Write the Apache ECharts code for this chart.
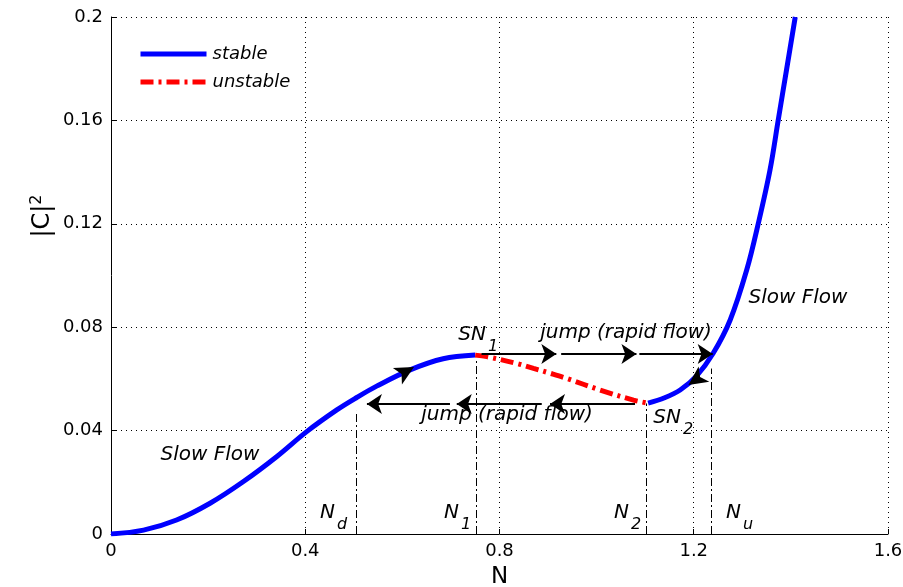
<!DOCTYPE html>
<html>
<head>
<meta charset="utf-8">
<script src="https://cdn.jsdelivr.net/npm/echarts@6/dist/echarts.min.js"></script>
<style>html,body{margin:0;padding:0;background:#fff;}#c{width:903px;height:587px;}</style>
</head>
<body>
<div id="c"></div>
<script>
// ---- data ----
const stableLowerN = [0, 0.067, 0.135, 0.204, 0.272, 0.341, 0.403, 0.465, 0.506, 0.547, 0.616, 0.684, 0.75];
const stableLowerY = [0, 0.0015, 0.0054, 0.0119, 0.0202, 0.0299, 0.0396, 0.0480, 0.0528, 0.0572, 0.0635, 0.0678, 0.0692];
const unstableN = [0.75, 0.774, 0.835, 0.87, 0.904, 0.938, 1.007, 1.076, 1.106];
const unstableY = [0.0692, 0.0686, 0.066, 0.0641, 0.0622, 0.0602, 0.0557, 0.0518, 0.0506];
const stableUpperN = [1.106, 1.14, 1.172, 1.206, 1.240, 1.275, 1.309, 1.333, 1.357, 1.374, 1.391, 1.409];
const stableUpperY = [0.0506, 0.0527, 0.0557, 0.0612, 0.0699, 0.0828, 0.1021, 0.1202, 0.1408, 0.1602, 0.1795, 0.2];

const xTickLabels = ['0', '0.4', '0.8', '1.2', '1.6'];
const yTickLabels = ['0', '0.04', '0.08', '0.12', '0.16', '0.2'];

// vertical markers: [N, topY]
const markerN = [0.506, 0.753, 1.102, 1.237];
const markerTop = [0.0476, 0.068, 0.0505, 0.064];

// jump arrows: [fromN, toN, y]
const jumpUpFrom = [0.763, 0.927, 1.088];
const jumpUpTo = [0.917, 1.082, 1.239];
const jumpUpY = 0.0696;
const jumpDownFrom = [0.698, 0.887, 1.079];
const jumpDownTo = [0.527, 0.712, 0.904];
const jumpDownY = 0.0503;

// flow arrows on the curve: [N, y, rotation]
const flowArrowN = [0.624, 1.189];
const flowArrowY = [0.0646, 0.0576];
const flowArrowRot = [-61, 125];

// annotations
const textLabels = ['Slow Flow', 'Slow Flow', 'jump (rapid flow)', 'jump (rapid flow)'];
const textN = [0.2039, 1.4147, 1.0605, 0.8155];
const textY = [0.0306, 0.0913, 0.0778, 0.0460];

const subMain = ['N', 'N', 'N', 'N', 'SN', 'SN'];
const subText = ['d', '1', '2', 'u', '1', '2'];
const subN = [0.4613, 0.7166, 1.0667, 1.2974, 0.7722, 1.1738];
const subY = [0.0081, 0.0081, 0.0081, 0.0081, 0.0770, 0.0449];

const zip = (a, b) => a.map((v, i) => [v, b[i]]);
const FONT = 'DejaVu Sans';

const chart = echarts.init(document.getElementById('c'), null, {renderer: 'canvas'});

const markLines = [];
markerN.forEach((n, i) => {
  markLines.push([{coord: [n, 0], symbol: 'none', lineStyle: {type: [8, 3, 2, 3], width: 1, color: '#000'}},
                  {coord: [n, markerTop[i]], symbol: 'none'}]);
});
jumpUpFrom.forEach((f, i) => {
  markLines.push([{coord: [f, jumpUpY], symbol: 'none'}, {coord: [jumpUpTo[i], jumpUpY], symbol: 'arrow'}]);
});
jumpDownFrom.forEach((f, i) => {
  markLines.push([{coord: [f, jumpDownY], symbol: 'none'}, {coord: [jumpDownTo[i], jumpDownY], symbol: 'arrow'}]);
});

const option = {
  animation: false,
  backgroundColor: '#fff',
  grid: {left: 111, right: 15, top: 17, bottom: 53, containLabel: false, outerBoundsMode: 'none'},
  legend: {
    left: 138, top: 44, orient: 'vertical', padding: 0,
    data: ['stable', 'unstable'],
    itemWidth: 66, itemHeight: 14, itemGap: 8,
    textStyle: {fontFamily: FONT, fontSize: 18, fontStyle: 'italic', color: '#000', lineHeight: 20, padding: [0, 0, 0, 1]},
    itemStyle: {opacity: 0},
    lineStyle: {width: 5}
  },
  xAxis: {
    type: 'value', min: 0, max: 1.6, interval: 0.4,
    name: 'N', nameLocation: 'middle', nameGap: 32,
    nameTextStyle: {fontFamily: FONT, fontSize: 23, color: '#000'},
    axisLine: {show: true, onZero: false, lineStyle: {color: '#000', width: 1}},
    axisTick: {show: true, inside: true, length: 5, lineStyle: {color: '#000'}},
    axisLabel: {fontFamily: FONT, fontSize: 18, color: '#000', margin: 8,
      formatter: v => xTickLabels[Math.round(v / 0.4)]},
    splitLine: {show: true, lineStyle: {color: '#000', type: [1, 4], width: 1}}
  },
  yAxis: {
    type: 'value', min: 0, max: 0.2, interval: 0.04,
    axisLine: {show: true, onZero: false, lineStyle: {color: '#000', width: 1}},
    axisTick: {show: true, inside: true, length: 5, lineStyle: {color: '#000'}},
    axisLabel: {fontFamily: FONT, fontSize: 18, color: '#000', margin: 8,
      formatter: v => yTickLabels[Math.round(v / 0.04)]},
    splitLine: {show: true, lineStyle: {color: '#000', type: [1, 4], width: 1}}
  },
  series: [
    {name: 'stable', type: 'line', data: zip(stableLowerN, stableLowerY), smooth: 0.35, symbol: 'none',
     lineStyle: {color: '#0000ff', width: 5}, itemStyle: {color: '#0000ff'}, z: 3},
    {name: 'unstable', type: 'line', data: zip(unstableN, unstableY), smooth: 0.35, symbol: 'none',
     lineStyle: {color: '#ff0000', width: 5, type: [13, 5, 3, 5]}, itemStyle: {color: '#ff0000'}, z: 3},
    {name: 'stable', type: 'line', data: zip(stableUpperN, stableUpperY), smooth: 0.35, symbol: 'none',
     lineStyle: {color: '#0000ff', width: 5}, itemStyle: {color: '#0000ff'}, z: 3},
    {name: 'marks', type: 'line', data: [], symbol: 'none', silent: true, z: 4,
     markLine: {silent: true, animation: false, symbolSize: 15, label: {show: false},
       lineStyle: {type: 'solid', color: '#000', width: 2}, emphasis: {disabled: true},
       data: markLines}},
    {name: 'flowArrows', type: 'scatter', z: 5, silent: true,
     data: flowArrowN.map((n, i) => ({value: [n, flowArrowY[i]], symbolRotate: flowArrowRot[i]})),
     symbol: 'arrow', symbolSize: [14, 19], itemStyle: {color: '#000', opacity: 1}}
  ]
};
chart.setOption(option);

const graphics = [];
textLabels.forEach((t, i) => {
  const p = chart.convertToPixel({gridIndex: 0}, [textN[i], textY[i]]);
  graphics.push({type: 'text', x: p[0], y: p[1], z: 10,
    style: {text: t, fill: '#000', font: 'italic 20px "DejaVu Sans"', align: 'center', verticalAlign: 'middle'}});
});
subMain.forEach((t, i) => {
  const p = chart.convertToPixel({gridIndex: 0}, [subN[i], subY[i]]);
  graphics.push({type: 'text', x: p[0], y: p[1], z: 10,
    style: {text: t, fill: '#000', font: 'italic 20px "DejaVu Sans"', align: 'right', verticalAlign: 'middle'}});
  graphics.push({type: 'text', x: p[0] + 2, y: p[1] + 12, z: 10,
    style: {text: subText[i], fill: '#000', font: 'italic 16px "DejaVu Sans"', align: 'left', verticalAlign: 'middle'}});
});
// y-axis title |C|^2
graphics.push({type: 'text', x: 43, y: 216, rotation: Math.PI / 2, z: 10,
  style: {text: '|C|{s|2}', fill: '#000', font: '24px "DejaVu Sans"', align: 'center', verticalAlign: 'middle',
    rich: {s: {fontFamily: FONT, fontSize: 16, fill: '#000', verticalAlign: 'top', padding: [0, 0, 12, 0]}}}});
chart.setOption({graphic: graphics});
</script>
</body>
</html>
